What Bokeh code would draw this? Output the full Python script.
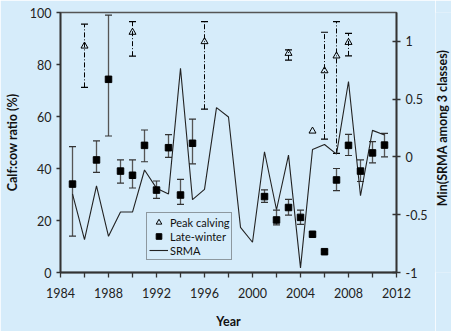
import math
from bokeh.plotting import figure
from bokeh.layouts import row
from bokeh.core.properties import value
from bokeh.models import (ColumnDataSource, Range1d, LinearAxis, FixedTicker,
                          Whisker, TeeHead, Legend, LegendItem)
from bokeh.embed import file_html
from bokeh.resources import INLINE

# ---- data ----
lw_year = [1985, 1987, 1988, 1989, 1990, 1991, 1992, 1993, 1994, 1995,
           2001, 2002, 2003, 2004, 2005, 2006, 2007, 2008, 2009, 2010, 2011]
lw_ratio = [34, 43.3, 74.3, 39, 37.4, 48.9, 31.7, 48, 29.8, 49.7,
            29.2, 20.2, 25, 21.2, 14.7, 8, 35.6, 48.9, 39, 46, 49]
lw_upper = [48.4, 50.6, 99, 43.3, 43.3, 54.8, 35.2, 53, 35.8, 59,
            31.8, 24, 28.1, 24, 15.4, 8.6, 40, 53.1, 43.3, 50.3, 53.5]
lw_lower = [14, 38.5, 52.5, 34.4, 32.5, 42.6, 28.5, 44.3, 26.2, 41.8,
            27, 18.3, 22.1, 18.5, 14, 7.4, 31.5, 45, 35, 42.2, 44.5]

pc_year = [1986, 1990, 1996, 2003, 2005, 2006, 2007, 2008]
pc_ratio = [87.1, 92.4, 88.8, 84.3, 54.4, 77.6, 83.3, 88.5]
pc_err_year = [1986, 1990, 1996, 2003, 2006, 2007, 2008]
pc_upper = [95.5, 96.5, 96.5, 85.6, 92.4, 96.5, 92]
pc_lower = [71.2, 83.2, 62.8, 81.7, 51.3, 45.8, 83.3]

srma_year = list(range(1985, 2012))
srma_val = [-0.32, -0.715, -0.25, -0.687, -0.477, -0.477, -0.113, -0.27, -0.32,
            0.768, -0.37, -0.28, 0.427, 0.346, -0.61, -0.738, 0.045, -0.457,
            0.016, -0.96, 0.065, 0.108, 0.025, 0.653, -0.336, 0.23, 0.19]

x_major = [1984, 1988, 1992, 1996, 2000, 2004, 2008, 2012]
x_minor = [1986, 1990, 1994, 1998, 2002, 2006, 2010]
left_ticks = [0, 20, 40, 60, 80, 100]
right_ticks = [-1, -0.5, 0, 0.5, 1]
right_labels = ["-1", "-0.5", "0", "0.5", "1"]
right_title = "Min(SRMA among 3 classes)"

BG = "#d6ecfa"
FONT = "Lato"
AX = "#333333"

p = figure(width=435, height=331, output_backend="svg", toolbar_location=None,
           x_range=Range1d(1984, 2012), y_range=Range1d(0, 100),
           min_border_left=60, min_border_right=39, min_border_top=12,
           min_border_bottom=58)
p.background_fill_color = BG
p.border_fill_color = BG
p.outline_line_color = "#555555"
p.outline_line_width = 1.5
p.xgrid.visible = False
p.ygrid.visible = False
p.extra_y_ranges = {"srma": Range1d(-1, 1.25)}

# axes
xa = p.xaxis[0]
xa.ticker = FixedTicker(ticks=x_major, minor_ticks=x_minor)
xa.major_tick_out = 5
xa.major_tick_in = 0
xa.minor_tick_out = 5
xa.minor_tick_in = 0
xa.axis_label = "Year"

ya = p.yaxis[0]
ya.ticker = FixedTicker(ticks=left_ticks)
ya.major_tick_out = 4
ya.major_tick_in = 0
ya.axis_label = "Calf:cow ratio (%)"

ra = LinearAxis(y_range_name="srma", ticker=FixedTicker(ticks=right_ticks),
                major_label_overrides={t: l for t, l in zip(right_ticks, right_labels)})
ra.major_tick_out = 4
ra.major_tick_in = 4
p.add_layout(ra, "right")

for ax in (xa, ya, ra):
    ax.axis_line_color = AX
    ax.axis_line_width = 1.8
    ax.major_tick_line_color = AX
    ax.major_tick_line_width = 1.3
    ax.minor_tick_line_color = AX if ax is xa else None
    ax.minor_tick_line_width = 1.3
    ax.major_label_text_font = FONT
    ax.major_label_text_font_size = "12.5px"
    ax.major_label_text_color = "#222222"
    ax.axis_label_text_font = FONT
    ax.axis_label_text_font_size = "12.5px"
    ax.axis_label_text_font_style = "bold"
    ax.axis_label_text_color = "#111111"

xa.major_label_standoff = 10
xa.axis_label_standoff = 13
ya.major_label_standoff = 5
ya.axis_label_standoff = 7
ra.major_label_standoff = 5

# SRMA line
srma_src = ColumnDataSource(dict(x=srma_year, y=srma_val))
r_line = p.line("x", "y", source=srma_src, y_range_name="srma",
                line_color="#222222", line_width=1.1)

# Late-winter error bars
lw_src = ColumnDataSource(dict(x=lw_year, y=lw_ratio, up=lw_upper, lo=lw_lower))
w1 = Whisker(base="x", upper="up", lower="lo", source=lw_src, dimension="height",
             line_color="#555555", line_width=1.3,
             upper_head=TeeHead(size=7, line_color="#333333", line_width=1.2),
             lower_head=TeeHead(size=7, line_color="#333333", line_width=1.2))
p.add_layout(w1)
r_sq = p.scatter("x", "y", source=lw_src, marker="square", size=6.5,
                 fill_color="black", line_color="black")

# Peak calving error bars
pc_err_src = ColumnDataSource(dict(x=pc_err_year, up=pc_upper, lo=pc_lower))
w2 = Whisker(base="x", upper="up", lower="lo", source=pc_err_src, dimension="height",
             line_color="black", line_width=1, line_dash="5 2 1 2",
             upper_head=TeeHead(size=7, line_color="black", line_width=1.2),
             lower_head=TeeHead(size=7, line_color="black", line_width=1.2))
p.add_layout(w2)
pc_src = ColumnDataSource(dict(x=pc_year, y=pc_ratio))
r_tri = p.scatter("x", "y", source=pc_src, marker="triangle", size=7,
                  fill_color=None, line_color="black", line_width=1)

legend = Legend(items=[LegendItem(label="Peak calving", renderers=[r_tri]),
                       LegendItem(label="Late-winter", renderers=[r_sq]),
                       LegendItem(label="SRMA", renderers=[r_line])],
                location=(86, 12))
legend.background_fill_color = BG
legend.background_fill_alpha = 1
legend.border_line_color = "#444444"
legend.border_line_width = 1.2
legend.label_text_font = FONT
legend.label_text_font_size = "11px"
legend.label_text_color = "#111111"
legend.label_height = 14
legend.glyph_height = 14
legend.glyph_width = 19
legend.spacing = 0
legend.padding = 2
legend.margin = 0
legend.label_standoff = 2
p.add_layout(legend, "center")

# narrow strip holding the right-axis title, reading bottom-to-top
p2 = figure(width=16, height=331, output_backend="svg", toolbar_location=None,
            x_range=Range1d(0, 1), y_range=Range1d(0, 331),
            min_border=0, min_border_left=0, min_border_right=0,
            min_border_top=0, min_border_bottom=0)
p2.axis.visible = False
p2.grid.visible = False
p2.outline_line_color = None
p2.background_fill_color = BG
p2.border_fill_color = BG
p2.text(x=[0.45], y=[184], text=[right_title], angle=math.pi / 2,
        text_align="center", text_baseline="middle",
        text_font=value(FONT), text_font_size=value("12.5px"),
        text_font_style=value("bold"), text_color="#111111")

layout = row(p, p2, spacing=0)
open("out.html", "w").write(file_html(layout, INLINE))
